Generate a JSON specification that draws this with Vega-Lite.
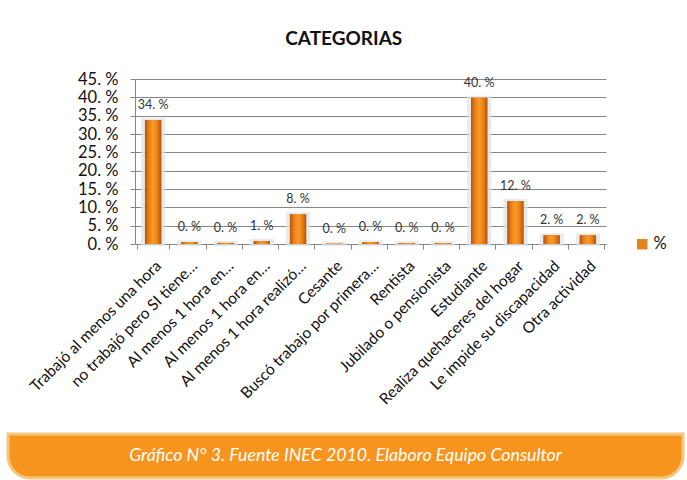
{
  "$schema": "https://vega.github.io/schema/vega-lite/v6.json",
  "background": "white",
  "padding": {"top": 30, "left": 6, "right": 6, "bottom": 3},
  "title": {"text": "CATEGORIAS", "fontSize": 19, "fontWeight": "bold", "font": "Lato", "color": "#111111", "anchor": "middle", "offset": 22, "dx": -26},
  "spacing": 24,
  "center": true,
  "config": {"font": "Lato", "view": {"stroke": null}},
  "vconcat": [
    {
      "width": 471,
      "height": 165,
      "data": {"values": [
        {"cat": "Trabajó al menos una hora", "value": 33.8, "label": "34. %"},
        {"cat": "no trabajó pero SI tiene…", "value": 0.5, "label": "0. %"},
        {"cat": "Al menos 1 hora en…", "value": 0.3, "label": "0. %"},
        {"cat": "Al menos 1 hora en…\u200b", "value": 0.8, "label": "1. %"},
        {"cat": "Al menos 1 hora realizó…", "value": 8.1, "label": "8. %"},
        {"cat": "Cesante", "value": 0.1, "label": "0. %"},
        {"cat": "Buscó trabajo por primera…", "value": 0.5, "label": "0. %"},
        {"cat": "Rentista", "value": 0.2, "label": "0. %"},
        {"cat": "Jubilado o pensionista", "value": 0.2, "label": "0. %"},
        {"cat": "Estudiante", "value": 39.9, "label": "40. %"},
        {"cat": "Realiza quehaceres del hogar", "value": 11.7, "label": "12. %"},
        {"cat": "Le impide su discapacidad", "value": 2.4, "label": "2. %"},
        {"cat": "Otra actividad", "value": 2.4, "label": "2. %"}
      ]},
      "encoding": {
        "x": {"field": "cat", "type": "nominal", "sort": null, "title": null,
          "axis": {"labelAngle": -45, "labelFontSize": 15.5, "labelColor": "#111111", "labelLimit": 300,
            "tickBand": "extent", "domainColor": "#868686", "tickColor": "#868686", "tickSize": 5, "labelPadding": 9, "grid": false}},
        "y": {"field": "value", "type": "quantitative", "title": null,
          "scale": {"domain": [0, 45], "nice": false},
          "axis": {"values": [0, 5, 10, 15, 20, 25, 30, 35, 40, 45], "labelExpr": "datum.value + '. %'",
            "labelFontSize": 16.5, "labelColor": "#111111", "domainColor": "#868686", "tickColor": "#868686",
            "tickSize": 5, "labelPadding": 12, "gridColor": "#868686", "gridWidth": 1, "gridOpacity": 1}}
      },
      "layer": [
        {"mark": {"type": "bar", "width": {"band": 0.62}, "color": "#e3e3e3", "opacity": 0.75, "stroke": "#e3e3e3", "strokeWidth": 4}},
        {"mark": {"type": "bar", "width": {"band": 0.5}},
         "encoding": {"fill": {"datum": "%", "type": "nominal", "scale": {"range": ["#e0861c"]},
           "legend": {"title": null, "orient": "none", "legendX": 626, "legendY": 157,
             "symbolType": "square", "symbolSize": 110, "labelFontSize": 16.5, "labelColor": "#111111", "symbolStrokeWidth": 0, "labelOffset": 3}}}},
        {"mark": {"type": "bar", "width": {"band": 0.5},
          "color": {"gradient": "linear", "x1": 0, "x2": 1, "y1": 0, "y2": 0,
            "stops": [
              {"offset": 0, "color": "#b4530c"},
              {"offset": 0.25, "color": "#ea8118"},
              {"offset": 0.5, "color": "#fa9a2a"},
              {"offset": 0.75, "color": "#ea8118"},
              {"offset": 1, "color": "#b4530c"}
            ]}}},
        {"mark": {"type": "text", "baseline": "bottom", "dy": -8, "fontSize": 12.5, "color": "#333333"},
         "encoding": {"text": {"field": "label"}}}
      ]
    },
    {
      "width": 675,
      "height": 44,
      "data": {"values": [{"t": "Gráfico N° 3. Fuente INEC 2010. Elaboro Equipo Consultor", "mid": 0.5}]},
      "layer": [
        {"mark": {"type": "rect", "color": "#f7941d", "stroke": "#f2c87e", "strokeWidth": 3, "cornerRadiusBottomLeft": 26, "cornerRadiusBottomRight": 26}, "encoding": {}},
        {"mark": {"type": "text", "fontStyle": "italic", "fontSize": 17.8, "color": "white", "font": "Lato"},
         "encoding": {
           "text": {"field": "t"},
           "y": {"field": "mid", "type": "quantitative", "title": ".",
             "scale": {"domain": [0, 1]},
             "axis": {"orient": "right", "labels": false, "ticks": false, "domain": false, "grid": false,
               "titleColor": "white", "titleFontSize": 8, "titlePadding": 42}}
         }}
      ]
    }
  ]
}
